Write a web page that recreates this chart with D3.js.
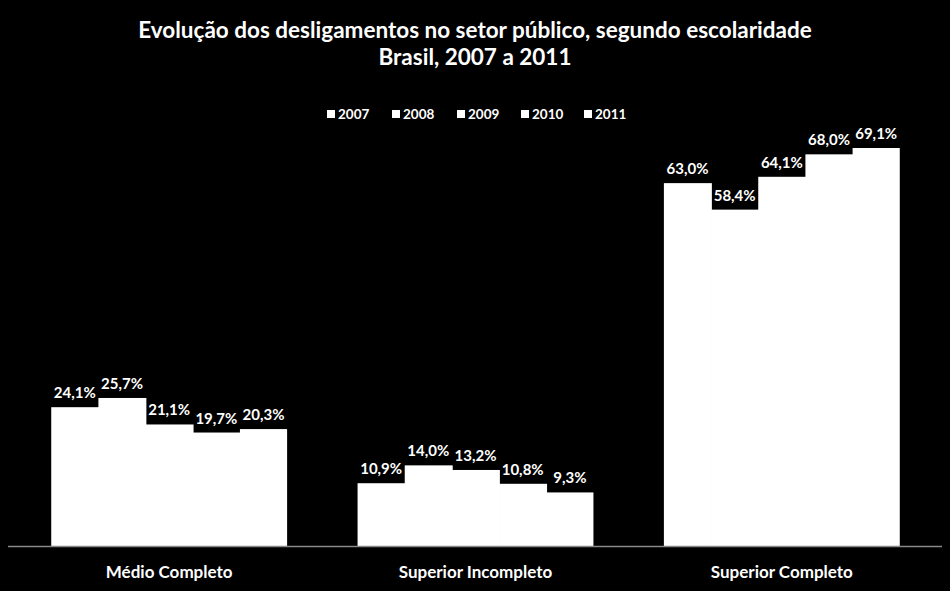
<!DOCTYPE html>
<html><head><meta charset="utf-8">
<script src="https://cdn.jsdelivr.net/npm/d3@7"></script>
<style>body{margin:0;background:#000}svg{display:block}</style>
</head><body>
<svg id="c" width="950" height="591"></svg>
<script>
const categories = ["Médio Completo", "Superior Incompleto", "Superior Completo"];
const years = ["2007", "2008", "2009", "2010", "2011"];
const v2007 = [24.1, 10.9, 63.0];
const v2008 = [25.7, 14.0, 58.4];
const v2009 = [21.1, 13.2, 64.1];
const v2010 = [19.7, 10.8, 68.0];
const v2011 = [20.3, 9.3, 69.1];
const series = [v2007, v2008, v2009, v2010, v2011];
const titleLines = ["Evolução dos desligamentos no setor público, segundo escolaridade", "Brasil, 2007 a 2011"];

const font = "Lato, 'Open Sans', sans-serif";
const svg = d3.select("#c");
svg.append("rect").attr("width",950).attr("height",591).attr("fill","#000");

const x0 = d3.scaleBand().domain(categories).range([16, 935]).paddingInner(0.23).paddingOuter(0.115);
const x1 = d3.scaleBand().domain(years).range([0, x0.bandwidth()]);
const y = d3.scaleLinear().domain([0, 69.1]).range([546, 148]);

svg.selectAll("text.title").data(titleLines).enter().append("text")
  .attr("x", 475).attr("y", (d,i)=>38 + i*27).attr("text-anchor","middle")
  .attr("fill","#fff").attr("font-family",font).attr("font-weight","bold").attr("font-size",22.5)
  .text(d=>d);

// legend
const legX = [327, 392, 457, 521, 584];
const leg = svg.selectAll("g.leg").data(years).enter().append("g").attr("transform",(d,i)=>`translate(${legX[i]},114)`);
leg.append("rect").attr("x",0).attr("y",-4).attr("width",8).attr("height",8).attr("fill","#fff");
leg.append("text").attr("x",11).attr("y",5).attr("fill","#fff").attr("font-family",font).attr("font-weight","bold").attr("font-size",13.5).text(d=>d);

const groups = svg.selectAll("g.grp").data(categories).enter().append("g")
  .attr("transform", d=>`translate(${x0(d)},0)`);
groups.each(function(cat, ci){
  const g = d3.select(this);
  years.forEach((yr, si)=>{
    const v = series[si][ci];
    g.append("rect").attr("x", x1(yr)).attr("y", y(v)).attr("width", x1.bandwidth() + (si<4?0.8:0)).attr("height", y(0)-y(v)).attr("fill","#fff");
    g.append("text").attr("x", x1(yr)+x1.bandwidth()/2).attr("y", y(v)-9).attr("text-anchor","middle")
      .attr("fill","#fff").attr("font-family",font).attr("font-weight","bold").attr("font-size",15)
      .text(v.toFixed(1).replace(".", ",") + "%");
  });
});

const xAxis = d3.axisBottom(x0).tickSize(0).tickPadding(20);
const ax = svg.append("g").attr("transform","translate(0,546)").call(xAxis);
ax.select(".domain").remove();
svg.append("line").attr("x1",8).attr("x2",942).attr("y1",546.5).attr("y2",546.5).attr("stroke","#888").attr("stroke-width",1.5);
ax.selectAll("text").attr("fill","#fff").attr("font-family",font).attr("font-weight","bold").attr("font-size",17);
</script>
</body></html>
